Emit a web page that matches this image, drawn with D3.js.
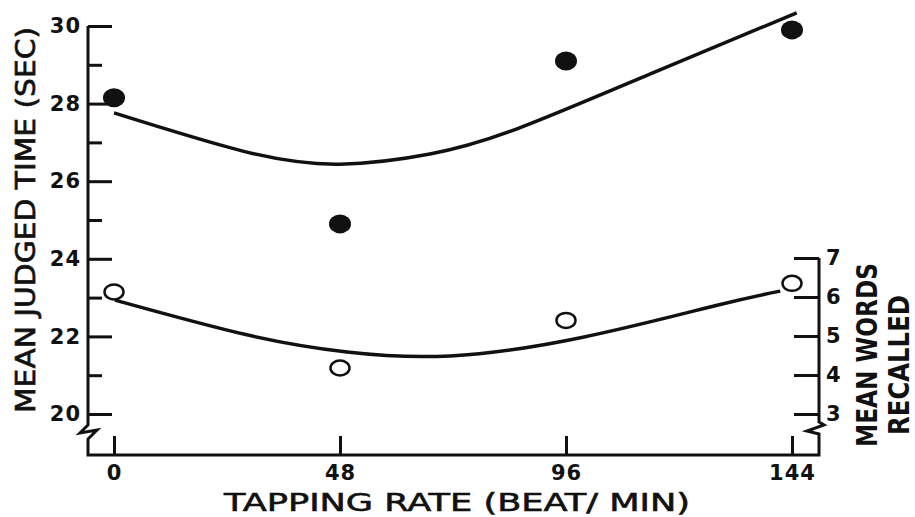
<!DOCTYPE html>
<html>
<head>
<meta charset="utf-8">
<script src="https://cdn.jsdelivr.net/npm/d3@7"></script>
<style>
  body { margin: 0; background: #fff; }
  svg { display: block; }
</style>
</head>
<body>
<svg id="drawing_region"></svg>
<script>
// tapping rate (beat/min) and the two measured series
const rates = [0, 48, 96, 144];
const judgedTime = [28.15, 24.9, 29.1, 29.9];      // filled dots, left axis
const wordsRecalled = [6.13, 4.18, 5.4, 6.35];     // open dots, right axis

// fitted curves
const timeFitRate = [0, 28.2, 48, 67.1, 85.6, 113.8, 145];
const timeFit = [27.76, 26.75, 26.44, 26.7, 27.35, 28.76, 30.34];
const wordsFitRate = [0.2, 28.2, 49.5, 71.4, 99.6, 128.1, 141.5];
const wordsFit = [5.92, 5.03, 4.59, 4.49, 4.97, 5.79, 6.15];

// tick values
const rateTicks = [0, 48, 96, 144];
const timeTicks = d3.range(20, 31, 1);
const wordTicks = [3, 4, 5, 6, 7];

const config = {
    width: 915,
    height: 517,
    frameLeft: 88,
    frameRight: 819,
    frameBottom: 455
};

const svg = d3.select('#drawing_region')
    .attr('width', config.width)
    .attr('height', config.height);

const xscale = d3.scaleLinear().domain([0, 144]).range([114, 792]);
const ytime = d3.scaleLinear().domain([20, 30]).range([414, 26]);
const ywords = d3.scaleLinear().domain([3, 7]).range([414, 258]);

const ink = '#111';

// frame with axis breaks
const L = config.frameLeft, R = config.frameRight, B = config.frameBottom;
const frame = d3.path();
frame.moveTo(L, ytime(30));
frame.lineTo(L, 425);
frame.lineTo(80, 433);
frame.lineTo(97, 430);
frame.lineTo(L, 439);
frame.lineTo(L, B);
frame.lineTo(R, B);
frame.lineTo(R, 434);
frame.lineTo(807, 431);
frame.lineTo(824, 425);
frame.lineTo(R, 422);
frame.lineTo(R, ywords(7));
svg.append('path')
    .attr('d', frame.toString())
    .attr('fill', 'none')
    .attr('stroke', ink)
    .attr('stroke-width', 3)
    .attr('stroke-linejoin', 'miter');

// left axis: ticks point inward
const yaxisL = d3.axisLeft(ytime)
    .tickValues(timeTicks)
    .tickSize(-24)
    .tickPadding(7)
    .tickFormat(d => d % 2 === 0 ? d : '');
const gL = svg.append('g')
    .attr('transform', `translate(${L},0)`)
    .call(yaxisL);
gL.select('.domain').remove();
gL.selectAll('.tick line')
    .attr('x2', d => d % 2 === 0 ? 24 : 14)
    .attr('stroke', ink)
    .attr('stroke-width', 3);
gL.selectAll('.tick text')
    .attr('font-family', 'DejaVu Sans')
    .attr('font-weight', 'bold')
    .attr('font-size', 21)
    .attr('letter-spacing', 1)
    .attr('fill', ink);

// right axis
const yaxisR = d3.axisRight(ywords)
    .tickValues(wordTicks)
    .tickSize(-25)
    .tickPadding(7)
    .tickFormat(d3.format('d'));
const gR = svg.append('g')
    .attr('transform', `translate(${R},0)`)
    .call(yaxisR);
gR.select('.domain').remove();
gR.selectAll('.tick line')
    .attr('stroke', ink)
    .attr('stroke-width', 3);
gR.selectAll('.tick text')
    .attr('font-family', 'DejaVu Sans')
    .attr('font-weight', 'bold')
    .attr('font-size', 21)
    .attr('fill', ink);

// x axis
const xaxis = d3.axisBottom(xscale)
    .tickValues(rateTicks)
    .tickSize(-19)
    .tickPadding(10)
    .tickFormat(d3.format('d'));
const gX = svg.append('g')
    .attr('transform', `translate(0,${B})`)
    .call(xaxis);
gX.select('.domain').remove();
gX.selectAll('.tick line')
    .attr('stroke', ink)
    .attr('stroke-width', 3);
gX.selectAll('.tick text')
    .attr('font-family', 'DejaVu Sans')
    .attr('font-weight', 'bold')
    .attr('font-size', 21)
    .attr('letter-spacing', 1)
    .attr('fill', ink);

// axis titles
svg.append('text')
    .attr('x', 457)
    .attr('y', 511)
    .attr('text-anchor', 'middle')
    .attr('font-family', 'DejaVu Sans')
    .attr('font-size', 25)
    .attr('textLength', 466)
    .attr('lengthAdjust', 'spacingAndGlyphs')
    .attr('fill', ink)
    .attr('stroke', ink)
    .attr('stroke-width', 0.6)
    .text('TAPPING RATE (BEAT/ MIN)');

svg.append('text')
    .attr('transform', 'translate(35,220) rotate(-90)')
    .attr('text-anchor', 'middle')
    .attr('font-family', 'DejaVu Sans')
    .attr('font-size', 27)
    .attr('textLength', 386)
    .attr('lengthAdjust', 'spacingAndGlyphs')
    .attr('fill', ink)
    .attr('stroke', ink)
    .attr('stroke-width', 0.7)
    .text('MEAN  JUDGED TIME (SEC)');

svg.append('text')
    .attr('transform', 'translate(877,355) rotate(-90)')
    .attr('text-anchor', 'middle')
    .attr('font-family', 'DejaVu Sans')
    .attr('font-weight', 'bold')
    .attr('font-size', 29)
    .attr('textLength', 184)
    .attr('lengthAdjust', 'spacingAndGlyphs')
    .attr('fill', ink)
    .text('MEAN  WORDS');

svg.append('text')
    .attr('transform', 'translate(909,365) rotate(-90)')
    .attr('text-anchor', 'middle')
    .attr('font-family', 'DejaVu Sans')
    .attr('font-weight', 'bold')
    .attr('font-size', 29)
    .attr('textLength', 140)
    .attr('lengthAdjust', 'spacingAndGlyphs')
    .attr('fill', ink)
    .text('RECALLED');

// fitted curves
const timeLine = d3.line()
    .x((d, i) => xscale(timeFitRate[i]))
    .y(d => ytime(d))
    .curve(d3.curveNatural);
svg.append('path')
    .attr('d', timeLine(timeFit))
    .attr('fill', 'none')
    .attr('stroke', ink)
    .attr('stroke-width', 3.5);

const wordsLine = d3.line()
    .x((d, i) => xscale(wordsFitRate[i]))
    .y(d => ywords(d))
    .curve(d3.curveNatural);
svg.append('path')
    .attr('d', wordsLine(wordsFit))
    .attr('fill', 'none')
    .attr('stroke', ink)
    .attr('stroke-width', 3.5);

// data points
svg.append('g').selectAll('ellipse')
    .data(judgedTime)
    .join('ellipse')
    .attr('cx', (d, i) => xscale(rates[i]))
    .attr('cy', d => ytime(d))
    .attr('rx', 11)
    .attr('ry', 9.5)
    .attr('fill', ink);

svg.append('g').selectAll('ellipse')
    .data(wordsRecalled)
    .join('ellipse')
    .attr('cx', (d, i) => xscale(rates[i]))
    .attr('cy', d => ywords(d))
    .attr('rx', 9.5)
    .attr('ry', 7.5)
    .attr('fill', '#fff')
    .attr('stroke', ink)
    .attr('stroke-width', 2.5);
</script>
</body>
</html>
